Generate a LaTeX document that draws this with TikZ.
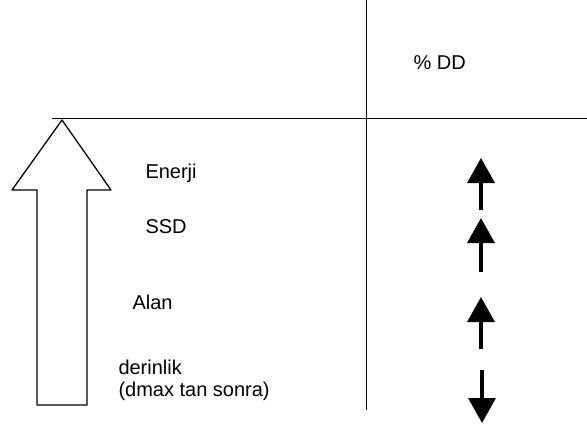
\documentclass[tikz,border=0pt]{standalone}
\usepackage{fontspec}
\setmainfont{Liberation Sans}
\usetikzlibrary{arrows.meta}

\tikzset{
  lbl/.style={anchor=base west,inner sep=0pt,font=\fontsize{20}{24}\selectfont},
  trend/.style={line width=3.5pt,-{Triangle[width=27pt,length=25pt]}}
}

\begin{document}
\begin{tikzpicture}[x=1pt,y=-1pt,line width=1pt]
\path[use as bounding box] (0,0) rectangle (587,428);
% axes
\draw (52,119)--(587,119);
\draw (366,0)--(366,410);
% big arrow
\draw[line width=1.3pt,line join=round] (62,120)--(111,190)--(87,190)--(87,405)
  --(37,405)--(37,190)--(12,190)--cycle;
% labels
\node[lbl] (dd) at (413,70) {\% DD};
\node[lbl] (en) at (145,178) {Enerji};
\node[lbl] (ssd) at (145,233) {SSD};
\node[lbl] (alan) at (132,309) {Alan};
\node[lbl] (der) at (118,374) {derinlik};
\node[lbl] (dmax) at (118,396) {(dmax tan sonra)};
% trend arrows
\coordinate (e1) at (481,210); \coordinate (e2) at (481,158);
\coordinate (s1) at (481,272); \coordinate (s2) at (481,218);
\coordinate (a1) at (481,349); \coordinate (a2) at (481,297);
\coordinate (d1) at (482,370); \coordinate (d2) at (482,423);
\draw[trend] (e1)--(e2);
\draw[trend] (s1)--(s2);
\draw[trend] (a1)--(a2);
\draw[trend] (d1)--(d2);
\end{tikzpicture}
\end{document}
